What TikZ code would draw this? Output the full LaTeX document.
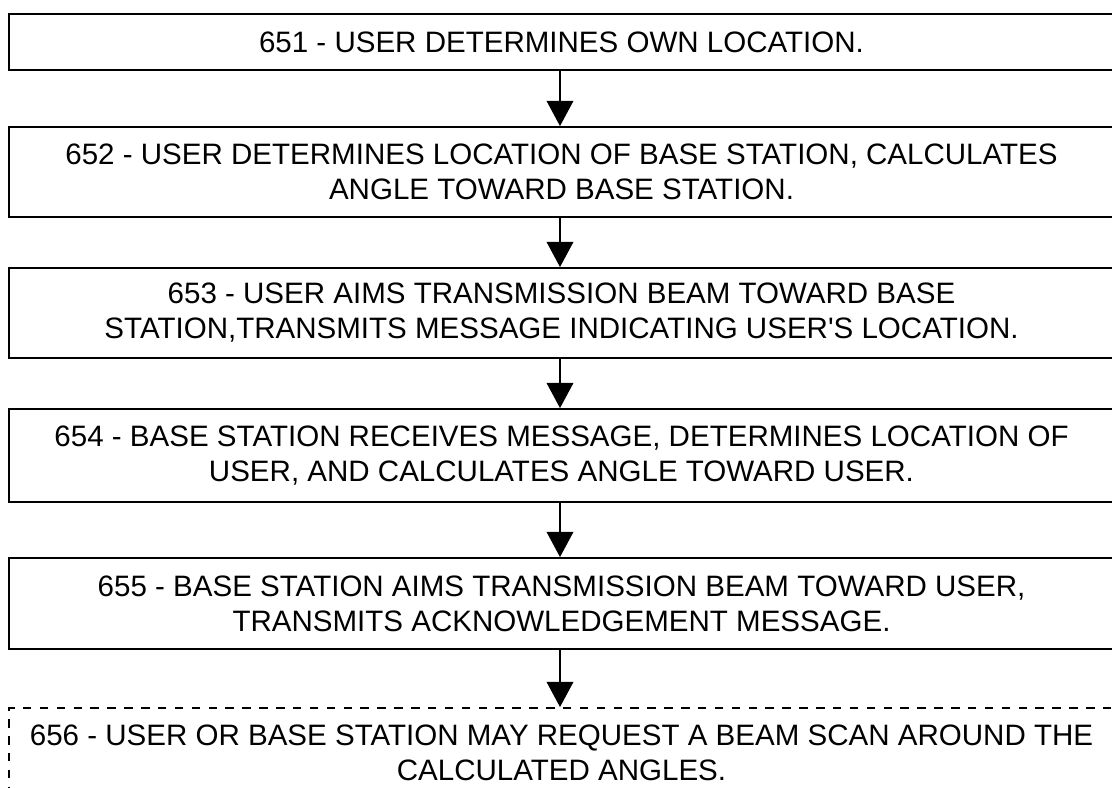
\documentclass[tikz,border=0pt]{standalone}
\usepackage{fontspec}
\setmainfont{Liberation Sans}
\usetikzlibrary{arrows.meta}
\begin{document}
\begin{tikzpicture}[x=0.025cm,y=-0.025cm,
    stepbox/.style={draw,line width=1.3pt,minimum width=27.625cm,inner sep=0pt,
      align=center,font=\fontsize{21}{25}\selectfont},
    flow/.style={line width=1.3pt,-{Triangle[width=19pt,length=18pt]}}]
  \useasboundingbox (0,0) rectangle (1112,788);
  \clip (0,0) rectangle (1112,788);

  \node[stepbox,minimum height=1.4cm] (s651) at (561.5,42)
    {651 - USER DETERMINES OWN LOCATION.};
  \node[stepbox,minimum height=2.25cm] (s652) at (561.5,172)
    {652 - USER DETERMINES LOCATION OF BASE STATION, CALCULATES\\ANGLE TOWARD BASE STATION.};
  \node[stepbox,minimum height=2.25cm] (s653) at (561.5,313)
    {653 - USER AIMS TRANSMISSION BEAM TOWARD BASE\\STATION,TRANSMITS MESSAGE INDICATING USER\textquotesingle S LOCATION.};
  \node[stepbox,minimum height=2.325cm] (s654) at (561.5,455.5)
    {654 - BASE STATION RECEIVES MESSAGE, DETERMINES LOCATION OF\\USER, AND CALCULATES ANGLE TOWARD USER.};
  \node[stepbox,minimum height=2.275cm] (s655) at (561.5,603.5)
    {655 - BASE STATION AIMS TRANSMISSION BEAM TOWARD USER,\\TRANSMITS ACKNOWLEDGEMENT MESSAGE.};
  % optional step
  \node[stepbox,dash pattern=on 6pt off 6pt,minimum height=2.25cm] (s656) at (561.5,753)
    {656 - USER OR BASE STATION MAY REQUEST A BEAM SCAN AROUND THE\\CALCULATED ANGLES.};

  \foreach \a/\b in {s651/s652,s652/s653,s653/s654,s654/s655,s655/s656}
    \draw[flow] (\a.south -| 560,0) -- (\b.north -| 560,0);
\end{tikzpicture}
\end{document}
